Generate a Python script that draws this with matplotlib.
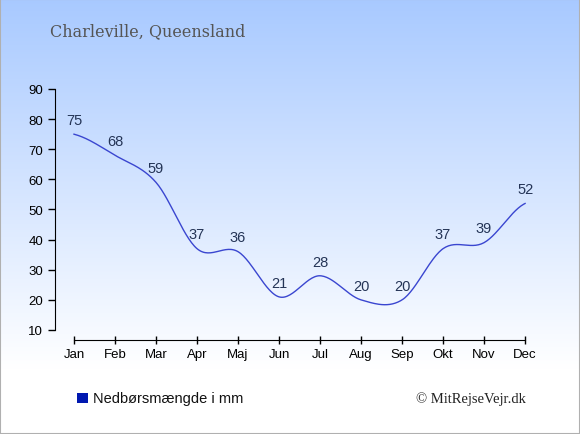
import numpy as np
import matplotlib.pyplot as plt

months = ['Jan', 'Feb', 'Mar', 'Apr', 'Maj', 'Jun', 'Jul', 'Aug', 'Sep', 'Okt', 'Nov', 'Dec']
rain = [75, 68, 59, 37, 36, 21, 28, 20, 20, 37, 39, 52]
yticks = [10, 20, 30, 40, 50, 60, 70, 80, 90]

plt.rcParams['font.family'] = ['Liberation Sans', 'DejaVu Sans']


def catmull_rom(y, steps=30):
    # smooth drawing of the line through the monthly points
    p = np.concatenate([[y[0]], y, [y[-1]]]).astype(float)
    xs, ys = [], []
    for i in range(1, len(p) - 2):
        t = np.linspace(0, 1, steps, endpoint=False)
        p0, p1, p2, p3 = p[i - 1], p[i], p[i + 1], p[i + 2]
        v = 0.5 * ((2 * p1) + (-p0 + p2) * t + (2 * p0 - 5 * p1 + 4 * p2 - p3) * t ** 2
                   + (-p0 + 3 * p1 - 3 * p2 + p3) * t ** 3)
        xs.extend(i - 1 + t)
        ys.extend(v)
    xs.append(len(y) - 1)
    ys.append(y[-1])
    return np.array(xs), np.array(ys)


W, H = 580, 435
fig = plt.figure(figsize=(W / 100, H / 100), dpi=100)

# gradient background
bg = fig.add_axes([0, 0, 1, 1])
grad = np.linspace(0, 1, 256).reshape(-1, 1)
top = np.array([0.66, 0.79, 1.0])
bot = np.array([1.0, 1.0, 1.0])
w = np.clip(grad / 0.85, 0, 1)
img = top * (1 - w)[..., None] + bot * w[..., None]
img = img.reshape(256, 1, 3)
bg.imshow(img, aspect='auto', extent=[0, 1, 0, 1])
bg.set_xlim(0, 1)
bg.set_ylim(0, 1)
bg.axis('off')
bg.add_patch(plt.Rectangle((0, 0), 1, 1, fill=False, edgecolor='#b0b0b0', linewidth=1.5,
                           transform=bg.transAxes))

# main axes in pixel layout
left, right, bottom, topp = 55, 530, 341, 90
ax = fig.add_axes([left / W, (H - bottom) / H, (right - left) / W, (bottom - topp) / H])
ax.patch.set_alpha(0)

xs, ys = catmull_rom(np.array(rain))
ax.plot(xs, ys, color='#3a46d0', linewidth=1)

for i, v in enumerate(rain):
    ax.text(i, v + 2.4, str(v), ha='center', va='bottom', fontsize=10.5, color='#243456')

ax.set_xlim(-0.463, 11.12)
ax.set_ylim(6.68, 90)
ax.set_xticks(range(len(months)))
ax.set_xticklabels(months)
ax.set_yticks(yticks)
ax.tick_params(axis='both', labelsize=9.5, colors='black', length=6, width=1, direction='inout')
ax.tick_params(axis='x', pad=3)
ax.tick_params(axis='y', direction='out', length=5)

for s in ['top', 'right']:
    ax.spines[s].set_visible(False)
ax.spines['left'].set_bounds(10, 90)
ax.spines['bottom'].set_bounds(0, 11)

fig.text(50 / W, 1 - 32 / H, 'Charleville, Queensland', family='DejaVu Serif', fontsize=11.5,
         color='#555555', va='center', ha='left')

fig.patches.append(plt.Rectangle((77 / W, 1 - 404 / H), 11 / W, 10 / H, transform=fig.transFigure,
                                 facecolor='#0018b0', edgecolor='none'))
fig.text(93 / W, 1 - 399 / H, 'Nedbørsmængde i mm', fontsize=10.5, va='center', ha='left',
         color='#111111')
fig.text(526 / W, 1 - 399 / H, '© MitRejseVejr.dk', family='Liberation Serif', fontsize=10.5,
         va='center', ha='right', color='#222222')

fig.savefig('out.png', dpi=100)
